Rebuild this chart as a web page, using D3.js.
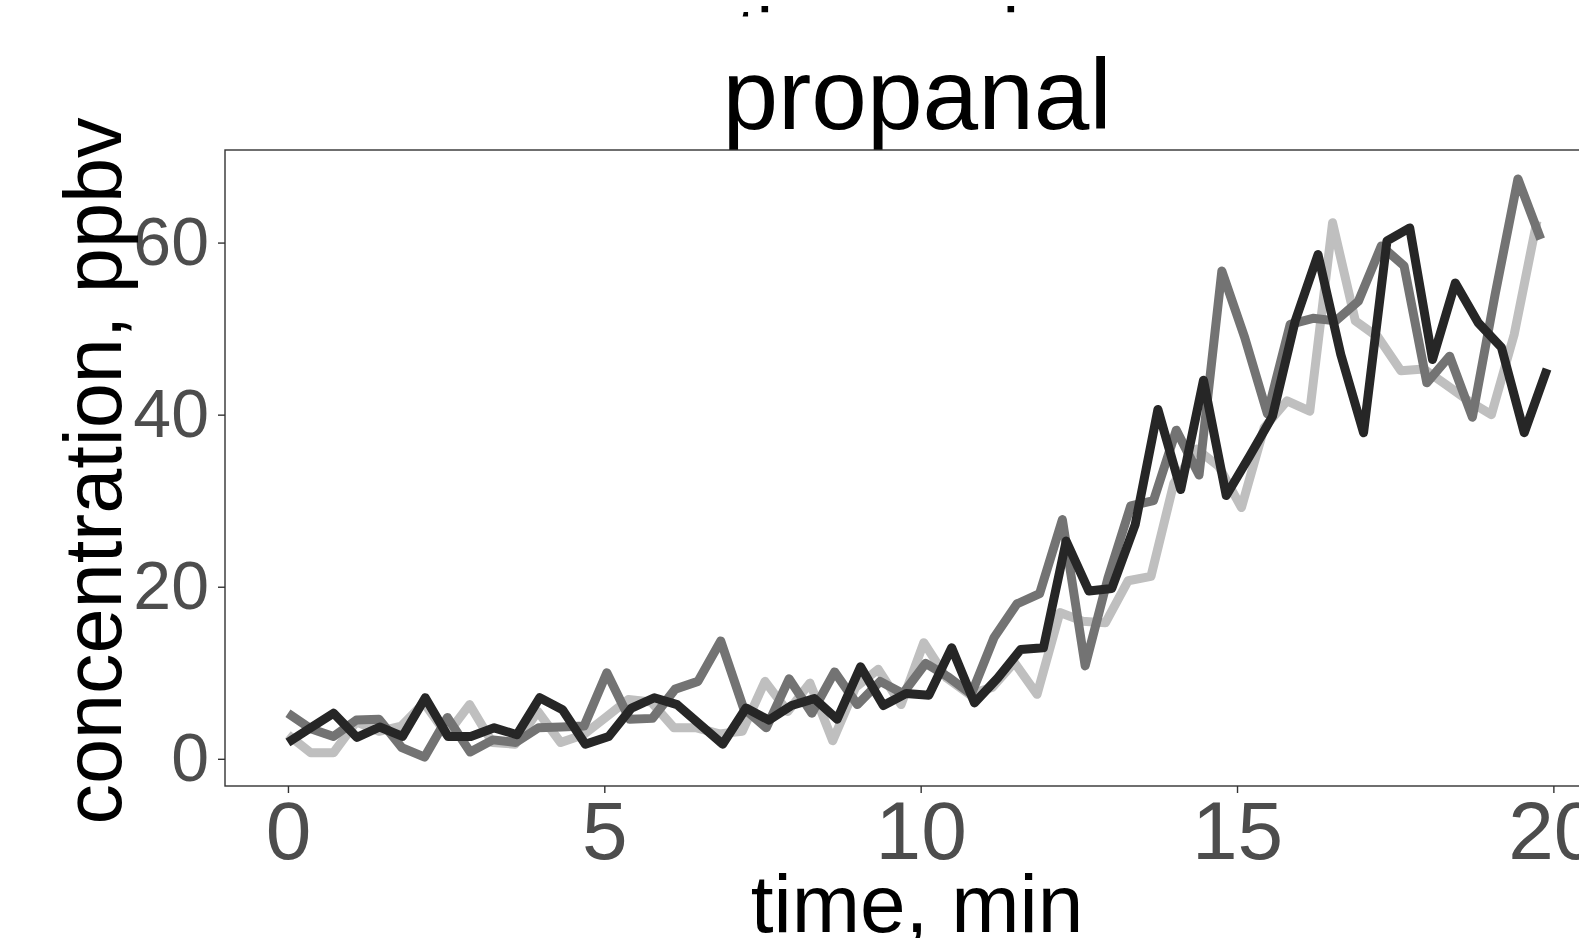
<!DOCTYPE html>
<html>
<head>
<meta charset="utf-8">
<script src="https://cdn.jsdelivr.net/npm/d3@7"></script>
<style>
  html, body { margin: 0; padding: 0; background: #fff; overflow: hidden; }
  text { font-family: "Liberation Sans", Arial, sans-serif; }
</style>
</head>
<body>
<svg id="chart" width="1579" height="938"></svg>
<script>
// sampling times (min) for each replicate
const timeLight = [0, 0.36, 0.72, 1.08, 1.44, 1.79, 2.15, 2.51, 2.87, 3.23, 3.59, 3.95, 4.31, 4.67, 5.02, 5.38, 5.74, 6.10, 6.46, 6.82,
  7.18, 7.54, 7.90, 8.25, 8.61, 8.97, 9.33, 9.69, 10.05, 10.41, 10.77, 11.13, 11.48, 11.84, 12.20, 12.56, 12.92, 13.28, 13.64, 14.00,
  14.36, 14.71, 15.07, 15.43, 15.79, 16.15, 16.51, 16.87, 17.23, 17.59, 17.95, 18.30, 18.66, 19.02, 19.38, 19.74];
const timeMid = [0, 0.36, 0.72, 1.08, 1.44, 1.80, 2.16, 2.52, 2.88, 3.24, 3.60, 3.96, 4.32, 4.68, 5.04, 5.40, 5.76, 6.12, 6.48, 6.84,
  7.20, 7.56, 7.92, 8.28, 8.64, 9.00, 9.36, 9.72, 10.08, 10.44, 10.80, 11.16, 11.52, 11.88, 12.24, 12.60, 12.96, 13.32, 13.68, 14.04,
  14.40, 14.76, 15.12, 15.48, 15.84, 16.20, 16.56, 16.92, 17.28, 17.64, 18.00, 18.36, 18.72, 19.08, 19.44, 19.80];
const timeDark = [0, 0.36, 0.72, 1.09, 1.45, 1.81, 2.17, 2.53, 2.89, 3.26, 3.62, 3.98, 4.34, 4.70, 5.07, 5.43, 5.79, 6.15, 6.51, 6.87,
  7.24, 7.60, 7.96, 8.32, 8.68, 9.05, 9.41, 9.77, 10.13, 10.49, 10.85, 11.22, 11.58, 11.94, 12.30, 12.66, 13.02, 13.39, 13.75, 14.11,
  14.47, 14.83, 15.20, 15.56, 15.92, 16.28, 16.64, 17.00, 17.37, 17.73, 18.09, 18.45, 18.81, 19.18, 19.54, 19.90];

// propanal concentration, ppbv
const concLight = [2.8, 0.7, 0.7, 4.3, 3.2, 3.8, 6.5, 2.8, 6.3, 1.9, 1.7, 5.5, 1.9, 2.8, 4.8, 6.9, 6.6, 3.6, 3.6, 2.9,
  3.2, 9.0, 5.5, 8.8, 2.1, 8.3, 10.4, 6.3, 13.5, 9.4, 7.5, 8.3, 11.2, 7.5, 17.0, 16.0, 15.8, 20.7, 21.2, 32.0,
  36.0, 34.0, 29.2, 38.5, 41.6, 40.4, 62.3, 50.9, 49.0, 45.1, 45.3, 43.5, 41.6, 40.0, 49.3, 62.5];
const concMid = [5.3, 3.5, 2.6, 4.5, 4.6, 1.3, 0.2, 4.8, 0.8, 2.2, 1.9, 3.6, 3.7, 3.8, 10.0, 4.6, 4.7, 8.1, 9.0, 13.7,
  5.9, 3.6, 9.3, 5.3, 10.1, 6.3, 9.0, 7.6, 11.1, 9.5, 7.5, 14.1, 18.0, 19.2, 27.8, 10.8, 21.0, 29.4, 30.0, 38.2,
  33.0, 56.7, 49.0, 40.1, 50.5, 51.2, 50.9, 53.2, 59.6, 57.3, 43.7, 46.8, 39.7, 54.0, 67.4, 60.4];
const concDark = [1.9, 3.6, 5.3, 2.5, 3.7, 2.6, 7.1, 2.6, 2.6, 3.6, 2.8, 7.1, 5.7, 1.7, 2.6, 5.9, 7.1, 6.3, 4.0, 1.7,
  5.9, 4.5, 6.2, 7.0, 4.6, 10.7, 6.2, 7.6, 7.4, 12.9, 6.5, 9.4, 12.7, 12.9, 25.3, 19.5, 19.8, 27.2, 40.6, 31.3,
  44.0, 30.6, 35.2, 39.8, 50.9, 58.6, 47.0, 37.9, 60.2, 61.7, 46.4, 55.3, 50.7, 47.8, 37.9, 45.3];

const xTicks = [0, 5, 10, 15, 20];
const yTicks = [0, 20, 40, 60];

const series = [
    {name: "rep1", color: "#bfbfbf", t: timeLight, v: concLight},
    {name: "rep2", color: "#737373", t: timeMid, v: concMid},
    {name: "rep3", color: "#262626", t: timeDark, v: concDark}
];

const panel = {left: 225, top: 150, right: 1610, bottom: 786};

// ggplot-like 5% expansion of the data range
function expand(lo, hi) {
    const pad = (hi - lo) * 0.05;
    return [lo - pad, hi + pad];
}
const allT = series.flatMap(s => s.t);
const allV = series.flatMap(s => s.v);

const x = d3.scaleLinear()
    .domain(expand(d3.min(allT), d3.max(allT)))
    .range([panel.left, panel.right]);
const y = d3.scaleLinear()
    .domain(expand(d3.min(allV), d3.max(allV)))
    .range([panel.bottom, panel.top]);

const svg = d3.select("#chart");
svg.append("rect").attr("width", 1579).attr("height", 938).attr("fill", "#fff");

// title of the plot above, mostly hidden behind this one
svg.append("text")
    .attr("x", 917).attr("y", 60)
    .attr("text-anchor", "middle")
    .attr("font-size", 75)
    .attr("fill", "#000")
    .text("time series");
svg.append("rect")
    .attr("x", 0).attr("y", 16.5)
    .attr("width", 1579).attr("height", 140)
    .attr("fill", "#fff");

svg.append("text")
    .attr("x", 917).attr("y", 129)
    .attr("text-anchor", "middle")
    .attr("font-size", 100)
    .attr("fill", "#000")
    .text("propanal");

// lines
const line = d3.line()
    .x(d => x(d[0]))
    .y(d => y(d[1]));

const plot = svg.append("g").attr("class", "lines");
plot.selectAll("path")
    .data(series)
    .enter()
    .append("path")
    .attr("d", s => line(s.t.map((t, i) => [t, s.v[i]])))
    .attr("fill", "none")
    .attr("stroke", s => s.color)
    .attr("stroke-width", 9)
    .attr("stroke-linejoin", "round")
    .attr("stroke-linecap", "butt");

// panel border
svg.append("rect")
    .attr("x", panel.left).attr("y", panel.top)
    .attr("width", panel.right - panel.left)
    .attr("height", panel.bottom - panel.top)
    .attr("fill", "none")
    .attr("stroke", "#333333")
    .attr("stroke-width", 1.4);

// axes
const xAxis = svg.append("g")
    .attr("transform", "translate(0," + panel.bottom + ")")
    .call(d3.axisBottom(x).tickValues(xTicks).tickSize(7).tickPadding(8).tickFormat(d3.format("d")));
xAxis.select(".domain").remove();
xAxis.selectAll(".tick line").attr("stroke", "#333333").attr("stroke-width", 1.4);
xAxis.selectAll(".tick text")
    .attr("fill", "#4d4d4d")
    .attr("font-size", 82)
    .attr("font-family", "Liberation Sans, Arial, sans-serif")
    .attr("dy", "0.71em");

const yAxis = svg.append("g")
    .attr("transform", "translate(" + panel.left + ",0)")
    .call(d3.axisLeft(y).tickValues(yTicks).tickSize(7).tickPadding(9).tickFormat(d3.format("d")));
yAxis.select(".domain").remove();
yAxis.selectAll(".tick line").attr("stroke", "#333333").attr("stroke-width", 1.4);
yAxis.selectAll(".tick text")
    .attr("fill", "#4d4d4d")
    .attr("font-size", 68)
    .attr("font-family", "Liberation Sans, Arial, sans-serif");

// axis titles
svg.append("text")
    .attr("x", 917).attr("y", 932)
    .attr("text-anchor", "middle")
    .attr("font-size", 82)
    .attr("fill", "#000")
    .text("time, min");

svg.append("text")
    .attr("transform", "translate(121," + ((panel.top + panel.bottom) / 2 + 3) + ") rotate(-90)")
    .attr("text-anchor", "middle")
    .attr("font-size", 81)
    .attr("fill", "#000")
    .text("concentration, ppbv");
</script>
</body>
</html>
